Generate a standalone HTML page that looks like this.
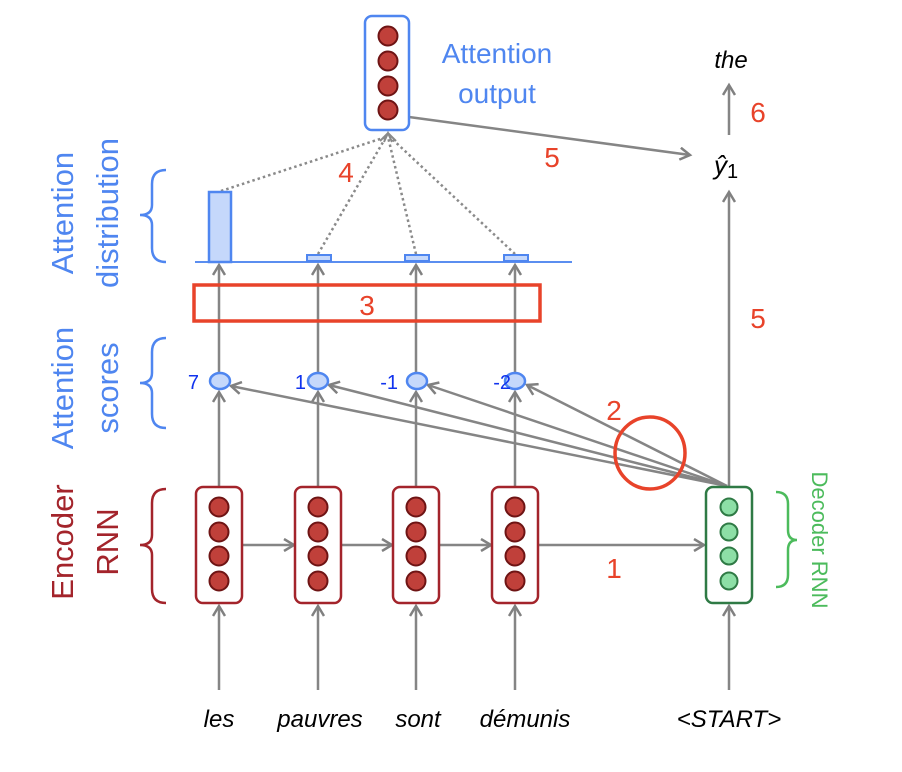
<!DOCTYPE html>
<html><head><meta charset="utf-8"><style>
html,body{margin:0;padding:0;background:#fff;}
svg{display:block;}
text{font-family:"Liberation Sans","DejaVu Sans",sans-serif;}
</style></head><body>
<svg width="902" height="772" viewBox="0 0 902 772" xmlns="http://www.w3.org/2000/svg">
<defs>
<marker id="ah" markerWidth="14" markerHeight="14" refX="11" refY="7" orient="auto" markerUnits="userSpaceOnUse">
<path d="M1,1 L11,7 L1,13" fill="none" stroke="#808080" stroke-width="2.5"/>
</marker>
</defs>
<g stroke="#858585" stroke-width="2.5" fill="none">
<line x1="219" y1="690" x2="219" y2="606" marker-end="url(#ah)"/>
<line x1="318" y1="690" x2="318" y2="606" marker-end="url(#ah)"/>
<line x1="416" y1="690" x2="416" y2="606" marker-end="url(#ah)"/>
<line x1="515" y1="690" x2="515" y2="606" marker-end="url(#ah)"/>
<line x1="729" y1="690" x2="729" y2="606" marker-end="url(#ah)"/>
<line x1="242" y1="545" x2="294" y2="545" marker-end="url(#ah)"/>
<line x1="341" y1="545" x2="392" y2="545" marker-end="url(#ah)"/>
<line x1="439" y1="545" x2="491" y2="545" marker-end="url(#ah)"/>
<line x1="538" y1="545" x2="704" y2="545" marker-end="url(#ah)"/>
<line x1="219" y1="487" x2="219" y2="392" marker-end="url(#ah)"/>
<line x1="318" y1="487" x2="318" y2="392" marker-end="url(#ah)"/>
<line x1="416" y1="487" x2="416" y2="392" marker-end="url(#ah)"/>
<line x1="515" y1="487" x2="515" y2="392" marker-end="url(#ah)"/>
<line x1="727" y1="486" x2="231" y2="386" marker-end="url(#ah)"/>
<line x1="727" y1="486" x2="329" y2="385" marker-end="url(#ah)"/>
<line x1="727" y1="486" x2="428" y2="385" marker-end="url(#ah)"/>
<line x1="727" y1="486" x2="527" y2="385" marker-end="url(#ah)"/>
<line x1="219" y1="372" x2="219" y2="265" marker-end="url(#ah)"/>
<line x1="318" y1="372" x2="318" y2="265" marker-end="url(#ah)"/>
<line x1="416" y1="372" x2="416" y2="265" marker-end="url(#ah)"/>
<line x1="515" y1="372" x2="515" y2="265" marker-end="url(#ah)"/>
<line x1="729" y1="487" x2="729" y2="192" marker-end="url(#ah)"/>
<line x1="729" y1="135" x2="729" y2="85" marker-end="url(#ah)"/>
<line x1="409" y1="117" x2="690" y2="155" marker-end="url(#ah)"/>
</g>
<g stroke="#8a8a8a" stroke-width="2.5" stroke-dasharray="2.5,3" fill="none">
<line x1="221" y1="191" x2="386" y2="137"/>
<line x1="318" y1="254" x2="386" y2="137"/>
<line x1="416" y1="254" x2="388" y2="137"/>
<line x1="515" y1="254" x2="390" y2="137"/>
</g>
<g stroke="#8a8a8a" stroke-width="2" fill="none">
<path d="M380,141 L388,133 L396,141 M384,142 L388,133 L392,142"/>
</g>
<line x1="195" y1="262" x2="572" y2="262" stroke="#5b8ef0" stroke-width="2"/>
<rect x="209" y="192" width="22" height="70" fill="#c5d8fb" stroke="#4f86f0" stroke-width="2.5"/>
<rect x="307" y="255" width="24" height="6" fill="#c5d8fb" stroke="#4f86f0" stroke-width="2"/>
<rect x="405" y="255" width="24" height="6" fill="#c5d8fb" stroke="#4f86f0" stroke-width="2"/>
<rect x="504" y="255" width="24" height="6" fill="#c5d8fb" stroke="#4f86f0" stroke-width="2"/>
<rect x="194" y="285" width="346" height="36" fill="none" stroke="#e8432a" stroke-width="3.5"/>
<text x="367" y="315" font-size="28" fill="#e8432a" text-anchor="middle">3</text>
<g fill="#c5d8fb" stroke="#4f86f0" stroke-width="2.5">
<ellipse cx="220" cy="381" rx="10" ry="8"/>
<ellipse cx="318" cy="381" rx="10" ry="8"/>
<ellipse cx="417" cy="381" rx="10" ry="8"/>
<ellipse cx="515" cy="381" rx="10" ry="8"/>
</g>
<g fill="#1133ee" font-size="20" text-anchor="end">
<text x="199" y="389">7</text>
<text x="306" y="389">1</text>
<text x="398" y="389">-1</text>
<text x="511" y="389">-2</text>
</g>
<g>
<rect x="196" y="487" width="46" height="116" rx="7" fill="#fff" stroke="#a3242b" stroke-width="2.5"/>
<rect x="295" y="487" width="46" height="116" rx="7" fill="#fff" stroke="#a3242b" stroke-width="2.5"/>
<rect x="393" y="487" width="46" height="116" rx="7" fill="#fff" stroke="#a3242b" stroke-width="2.5"/>
<rect x="492" y="487" width="46" height="116" rx="7" fill="#fff" stroke="#a3242b" stroke-width="2.5"/>
<rect x="706" y="487" width="46" height="116" rx="7" fill="#fff" stroke="#2f7a45" stroke-width="2.5"/>
</g>
<g fill="#c0403a" stroke="#6e1414" stroke-width="2">
<circle cx="219" cy="507" r="9.5"/><circle cx="219" cy="532" r="9.5"/><circle cx="219" cy="556" r="9.5"/><circle cx="219" cy="581" r="9.5"/>
<circle cx="318" cy="507" r="9.5"/><circle cx="318" cy="532" r="9.5"/><circle cx="318" cy="556" r="9.5"/><circle cx="318" cy="581" r="9.5"/>
<circle cx="416" cy="507" r="9.5"/><circle cx="416" cy="532" r="9.5"/><circle cx="416" cy="556" r="9.5"/><circle cx="416" cy="581" r="9.5"/>
<circle cx="515" cy="507" r="9.5"/><circle cx="515" cy="532" r="9.5"/><circle cx="515" cy="556" r="9.5"/><circle cx="515" cy="581" r="9.5"/>
<circle cx="388" cy="36" r="9.5"/><circle cx="388" cy="61" r="9.5"/><circle cx="388" cy="86" r="9.5"/><circle cx="388" cy="110" r="9.5"/>
</g>
<g fill="#8ddfa6" stroke="#2f7a45" stroke-width="2">
<circle cx="729" cy="507" r="8.5"/><circle cx="729" cy="532" r="8.5"/><circle cx="729" cy="556" r="8.5"/><circle cx="729" cy="581" r="8.5"/>
</g>
<rect x="365" y="16" width="44" height="114" rx="7" fill="none" stroke="#4f86f0" stroke-width="2.5"/>
<text x="497" y="63" font-size="28" fill="#4f86f0" text-anchor="middle">Attention</text>
<text x="497" y="103" font-size="28" fill="#4f86f0" text-anchor="middle">output</text>
<ellipse cx="650" cy="453" rx="35" ry="36" fill="none" stroke="#e8432a" stroke-width="3.5"/>
<g fill="#e8432a" font-size="28" text-anchor="middle">
<text x="346" y="182">4</text>
<text x="552" y="167">5</text>
<text x="758" y="122">6</text>
<text x="758" y="328">5</text>
<text x="614" y="420">2</text>
<text x="614" y="578">1</text>
</g>
<text x="731" y="68" font-size="24" font-style="italic" text-anchor="middle" fill="#000">the</text>
<text x="726" y="174" font-size="26" font-style="italic" font-family="Liberation Serif,serif" text-anchor="middle" fill="#000">ŷ<tspan font-size="20" font-style="normal" dy="4">1</tspan></text>
<g font-size="24" font-style="italic" fill="#000" text-anchor="middle">
<text x="219" y="727">les</text>
<text x="320" y="727">pauvres</text>
<text x="418" y="727">sont</text>
<text x="525" y="727">démunis</text>
<text x="729" y="727">&lt;START&gt;</text>
</g>
<g font-size="31" text-anchor="middle">
<text transform="translate(73,213) rotate(-90)" fill="#4f86f0">Attention</text>
<text transform="translate(118,213) rotate(-90)" fill="#4f86f0">distribution</text>
<text transform="translate(73,388) rotate(-90)" fill="#4f86f0">Attention</text>
<text transform="translate(118,388) rotate(-90)" fill="#4f86f0">scores</text>
<text transform="translate(73,542) rotate(-90)" fill="#a3242b">Encoder</text>
<text transform="translate(118,542) rotate(-90)" fill="#a3242b">RNN</text>
</g>
<text transform="translate(812,540) rotate(90)" font-size="22" fill="#4cbb5c" text-anchor="middle">Decoder RNN</text>
<g fill="none" stroke-width="2.5">
<path d="M166,170 Q152,170 152,184 L152,205 Q152,215 140,215 Q152,215 152,225 L152,248 Q152,262 166,262" stroke="#4f86f0"/>
<path d="M166,338 Q152,338 152,352 L152,373 Q152,383 140,383 Q152,383 152,393 L152,414 Q152,428 166,428" stroke="#4f86f0"/>
<path d="M166,489 Q152,489 152,503 L152,535 Q152,545 140,545 Q152,545 152,555 L152,589 Q152,603 166,603" stroke="#a3242b"/>
<path d="M776,492 Q788,492 788,504 L788,530 Q788,540 797,540 Q788,540 788,550 L788,575 Q788,587 776,587" stroke="#4cbb5c"/>
</g>
</svg>
</body></html>
